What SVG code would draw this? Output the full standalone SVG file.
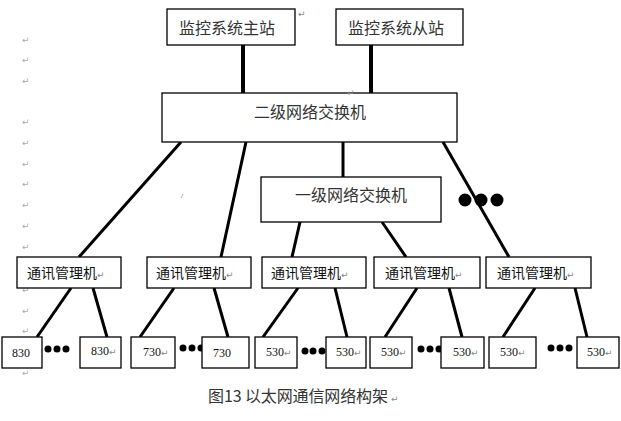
<svg xmlns="http://www.w3.org/2000/svg" width="621" height="421" viewBox="0 0 621 421">
<style>
.box{fill:#fff;stroke:#000;stroke-width:1.3}
.big{font-family:"Noto Sans CJK SC","Noto Sans",sans-serif;font-size:16px;fill:#333}
.mid{font-family:"Noto Sans CJK SC","Noto Sans",sans-serif;font-size:14px;fill:#111}
.num{font-family:"Liberation Serif",serif;font-size:12px;fill:#111}
.ret{font-family:"DejaVu Sans",sans-serif;font-size:9px;fill:#888}
.mrg{font-family:"DejaVu Sans",sans-serif;font-size:9px;fill:#aaa}
.thick{stroke:#000;stroke-width:4;fill:none}
.ln{stroke:#000;stroke-width:3;fill:none}
</style>
<rect width="621" height="421" fill="#fff"/>
<g id="margin-marks">
<text class="mrg" x="22" y="43">↵</text>
<text class="mrg" x="22" y="63">↵</text>
<text class="mrg" x="22" y="84">↵</text>
<text class="mrg" x="22" y="125">↵</text>
<text class="mrg" x="22" y="146">↵</text>
<text class="mrg" x="22" y="167">↵</text>
<text class="mrg" x="22" y="187">↵</text>
<text class="mrg" x="22" y="208">↵</text>
<text class="mrg" x="22" y="229">↵</text>
<text class="mrg" x="22" y="250">↵</text>
<text class="mrg" x="22" y="293">↵</text>
<text class="mrg" x="22" y="314">↵</text>
<text class="mrg" x="22" y="334">↵</text>
<text class="mrg" x="22" y="376">↵</text>
<line x1="181" y1="198" x2="183" y2="194" stroke="#999" stroke-width="0.8"/>
</g>
<g id="connectors">
<line class="thick" x1="243" y1="45" x2="243" y2="93"/>
<line class="thick" x1="371" y1="45" x2="371" y2="93"/>
<line class="ln" x1="181" y1="142" x2="79" y2="257"/>
<line class="ln" x1="246" y1="142" x2="221" y2="257"/>
<line class="ln" x1="343" y1="142" x2="343" y2="177"/>
<line class="ln" x1="443" y1="142" x2="509" y2="257"/>
<line class="ln" x1="300" y1="222" x2="292" y2="257"/>
<line class="ln" x1="382" y1="222" x2="406" y2="257"/>
<line class="ln" x1="71" y1="288" x2="37" y2="337"/>
<line class="ln" x1="93" y1="288" x2="107" y2="337"/>
<line class="ln" x1="174" y1="288" x2="140" y2="337"/>
<line class="ln" x1="214" y1="288" x2="228" y2="337"/>
<line class="ln" x1="298" y1="288" x2="263" y2="337"/>
<line class="ln" x1="335" y1="288" x2="347" y2="337"/>
<line class="ln" x1="417" y1="288" x2="385" y2="337"/>
<line class="ln" x1="449" y1="288" x2="462" y2="337"/>
<line class="ln" x1="535" y1="288" x2="503" y2="337"/>
<line class="ln" x1="575" y1="288" x2="587" y2="337"/>
</g>
<g id="ellipses" fill="#000">
<circle cx="465" cy="200" r="6.5"/><circle cx="481" cy="200" r="6.5"/><circle cx="497" cy="200" r="6.5"/>
<circle cx="48" cy="349" r="3.5"/><circle cx="57" cy="349" r="3.5"/><circle cx="66" cy="349" r="3.5"/>
<circle cx="183" cy="348" r="3.5"/><circle cx="192" cy="348" r="3.5"/><circle cx="201" cy="348" r="3.5"/>
<circle cx="305" cy="351" r="3.5"/><circle cx="313" cy="351" r="3.5"/><circle cx="322" cy="351" r="3.5"/>
<circle cx="421" cy="349" r="3.5"/><circle cx="430" cy="349" r="3.5"/><circle cx="439" cy="349" r="3.5"/>
<circle cx="551" cy="348" r="3.5"/><circle cx="560" cy="348" r="3.5"/><circle cx="569" cy="348" r="3.5"/>
</g>
<g id="master">
<rect class="box" x="167" y="9" width="128" height="36"/>
<text class="big" x="227" y="33.5" text-anchor="middle">监控系统主站</text>
<text class="ret" x="298" y="17">↵</text>
</g>
<g id="slave">
<rect class="box" x="336" y="9" width="127" height="36"/>
<text class="big" x="396" y="33.5" text-anchor="middle">监控系统从站</text>
</g>
<g id="switch2">
<rect class="box" x="162" y="93" width="295" height="49"/>
<text class="big" x="310" y="118" text-anchor="middle">二级网络交换机</text>
<text class="ret" x="347" y="96" font-size="7">↵</text>
</g>
<g id="switch1">
<rect class="box" x="261" y="177" width="180" height="45"/>
<text class="big" x="351" y="201" text-anchor="middle">一级网络交换机</text>
</g>
<g id="mgr1"><rect class="box" x="17" y="257" width="104" height="31"/><text class="mid" x="27" y="278">通讯管理机</text><text class="ret" x="97" y="278">↵</text></g>
<g id="mgr2"><rect class="box" x="147" y="257" width="104" height="31"/><text class="mid" x="156" y="278">通讯管理机</text><text class="ret" x="226" y="278">↵</text></g>
<g id="mgr3"><rect class="box" x="262" y="257" width="104" height="31"/><text class="mid" x="271" y="278">通讯管理机</text><text class="ret" x="341" y="278">↵</text></g>
<g id="mgr4"><rect class="box" x="374" y="257" width="106" height="31"/><text class="mid" x="385" y="278">通讯管理机</text><text class="ret" x="455" y="278">↵</text></g>
<g id="mgr5"><rect class="box" x="486" y="257" width="105" height="31"/><text class="mid" x="497" y="278">通讯管理机</text><text class="ret" x="567" y="278">↵</text></g>
<g id="t1"><rect class="box" x="2" y="337" width="40" height="31"/><text class="num" x="12" y="357">830</text></g>
<g id="t2"><rect class="box" x="80" y="337" width="41" height="31"/><text class="num" x="91" y="355">830</text><text class="ret" x="109" y="355">↵</text></g>
<g id="t3"><rect class="box" x="131" y="337" width="44" height="31"/><text class="num" x="143" y="356">730</text><text class="ret" x="161" y="356">↵</text></g>
<g id="t4"><rect class="box" x="202" y="337" width="47" height="31"/><text class="num" x="213" y="357">730</text></g>
<g id="t5"><rect class="box" x="255" y="337" width="42" height="31"/><text class="num" x="266" y="356">530</text><text class="ret" x="284" y="356">↵</text></g>
<g id="t6"><rect class="box" x="326" y="337" width="40" height="31"/><text class="num" x="336" y="356">530</text><text class="ret" x="354" y="356">↵</text></g>
<g id="t7"><rect class="box" x="370" y="337" width="42" height="31"/><text class="num" x="381" y="356">530</text><text class="ret" x="399" y="356">↵</text></g>
<g id="t8"><rect class="box" x="441" y="337" width="43" height="31"/><text class="num" x="453" y="356">530</text><text class="ret" x="471" y="356">↵</text></g>
<g id="t9"><rect class="box" x="489" y="337" width="47" height="31"/><text class="num" x="500" y="356">530</text><text class="ret" x="518" y="356">↵</text></g>
<g id="t10"><rect class="box" x="577" y="337" width="42" height="31"/><text class="num" x="587" y="356">530</text><text class="ret" x="605" y="356">↵</text></g>
<g id="caption">
<text class="big" x="208" y="402" fill="#111" textLength="180" lengthAdjust="spacing">图13 以太网通信网络构架</text>
<text class="ret" x="391" y="402">↵</text>
</g>
</svg>
